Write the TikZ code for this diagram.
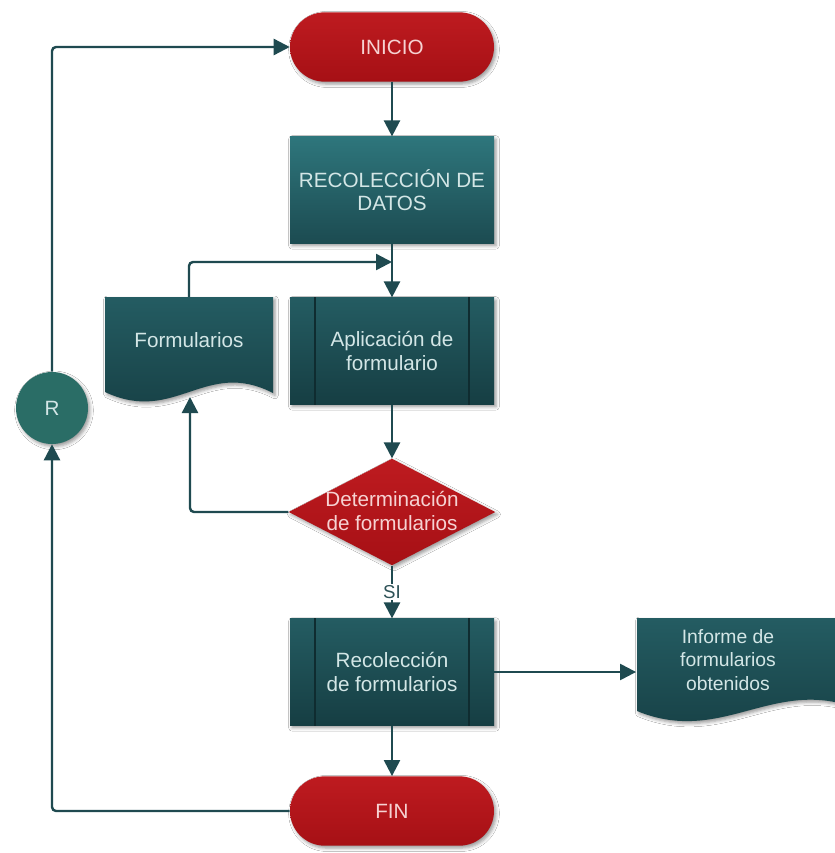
\documentclass[tikz,border=0pt]{standalone}
\usepackage{fontspec}
\setmainfont{Liberation Sans}
\usetikzlibrary{arrows.meta,shapes.misc,shapes.geometric,shadows.blur}
\definecolor{termredtop}{HTML}{BE1B20}
\definecolor{termredbot}{HTML}{A61015}
\definecolor{datostop}{HTML}{2E767C}
\definecolor{datosbot}{HTML}{1C4B51}
\definecolor{darktop}{HTML}{245C62}
\definecolor{darkbot}{HTML}{163E43}
\definecolor{edgecol}{HTML}{1F4A50}
\definecolor{txtteal}{HTML}{D3E6E6}
\definecolor{txtred}{HTML}{F6D2D2}
\definecolor{circcol}{HTML}{2A6D66}
\definecolor{innerline}{HTML}{0F2C30}
\definecolor{silabel}{HTML}{2E5257}
\begin{document}
\begin{tikzpicture}[x=0.75pt,y=-0.75pt,
  shd/.style={blur shadow={shadow xshift=1.5pt,shadow yshift=-1.8pt,shadow blur radius=2.5pt,shadow opacity=40}},
  txt/.style={font=\fontsize{15.5}{17.5}\selectfont, align=center},
  term/.style={rounded rectangle, minimum width=153pt, minimum height=52pt, inner sep=0pt,
    top color=termredtop, bottom color=termredbot, text=txtred, txt, shd},
  proc/.style={rectangle, minimum width=153pt, minimum height=80pt, inner sep=0pt,
    text=txtteal, txt, shd},
  darkfill/.style={top color=darktop, bottom color=darkbot},
  ghost/.style={rectangle, inner sep=0pt, text=txtteal, txt},
  conn/.style={draw=edgecol, line width=1.8pt, -{Triangle[length=12pt,width=12pt]}, rounded corners=3pt},
  sideline/.style={draw=innerline, line width=1pt}
]
\useasboundingbox (0,0) rectangle (835,853);
\fill[white] (0,0) rectangle (835,853);

% terminals
\node[term] (inicio) at (392,47) {INICIO};
\node[term] (fin) at (392,811) {FIN};

% process boxes
\node[proc, top color=datostop, bottom color=datosbot] (datos) at (392,190) {RECOLECCIÓN DE\\DATOS};
\node[proc, darkfill] (apl) at (392,351) {Aplicación de\\formulario};
\draw[sideline] ([xshift=19pt]apl.north west) -- ([xshift=19pt]apl.south west);
\draw[sideline] ([xshift=-19pt]apl.north east) -- ([xshift=-19pt]apl.south east);
\node[proc, darkfill] (rec) at (392,672) {Recolección\\de formularios};
\draw[sideline] ([xshift=19pt]rec.north west) -- ([xshift=19pt]rec.south west);
\draw[sideline] ([xshift=-19pt]rec.north east) -- ([xshift=-19pt]rec.south east);

% document: Formularios
\shade[darkfill, shd] (105,297) -- (273,297) -- (273,393) .. controls (205,358) and (175,425) .. (105,392) -- cycle;
\node[ghost, minimum width=126pt, minimum height=71pt] (form) at (189,344.5) {};
\node[ghost] (formtxt) at (189,340) {Formularios};

% document: Informe
\shade[darkfill, shd] (637,618) -- (850,618) -- (850,706) .. controls (770,680) and (720,745) .. (637,711) -- cycle;
\node[ghost, minimum width=160pt, minimum height=70pt] (inf) at (743,672) {};
\node[ghost, font=\fontsize{14.5}{17.5}\selectfont] (inftxt) at (728,660) {Informe de\\formularios\\obtenidos};

% decision
\node[diamond, minimum width=155pt, minimum height=80pt, inner sep=0pt,
  top color=termredtop, bottom color=termredbot, shd] (det) at (392,512) {};
\node[ghost, text=txtred, font=\fontsize{15.5}{18}\selectfont] (dettxt) at (392,511) {Determinación\\de formularios};

% R connector
\node[circle, minimum size=54pt, inner sep=0pt, fill=circcol, text=txtteal, txt, shd] (R) at (52,408) {R};

% connectors
\coordinate (j) at (392,262);
\coordinate (fb) at (190,397);
\draw[conn] (inicio.south) -- (datos.north);
\draw[conn] (datos.south) -- (apl.north);
\draw[conn] (form.north) |- (j);
\draw[conn] (apl.south) -- (det.north);
\draw[conn] (det.west) -| (fb);
\draw[conn] (det.south) -- node[fill=white, inner sep=1pt, text=silabel, font=\fontsize{14}{16}\selectfont] (si) {SI} (rec.north);
\draw[conn] (rec.east) -- (inf.west);
\draw[conn] (rec.south) -- (fin.north);
\draw[conn] (fin.west) -| (R.south);
\draw[conn] (R.north) |- (inicio.west);
\end{tikzpicture}
\end{document}
